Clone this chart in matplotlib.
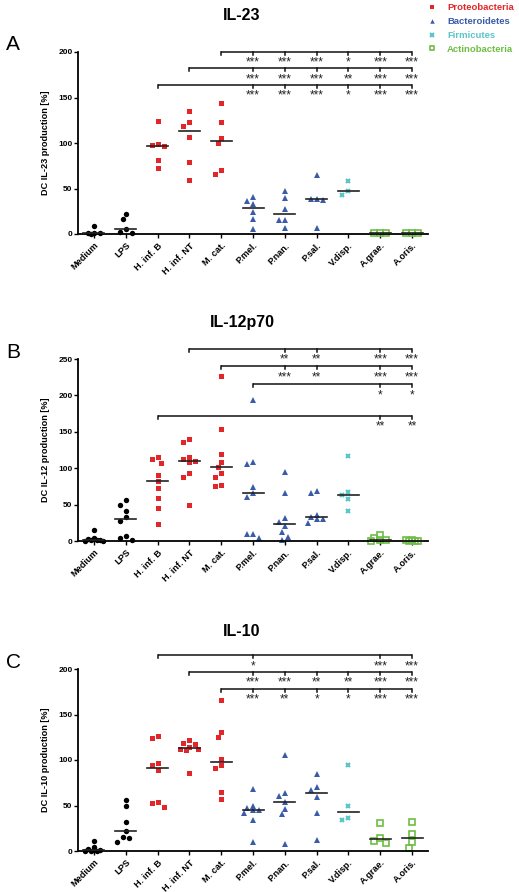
import numpy as np
import matplotlib
matplotlib.use('Agg')
import matplotlib.pyplot as plt
from matplotlib.lines import Line2D

plt.rcParams['font.family'] = ['Liberation Sans', 'DejaVu Sans']

groups = ['Medium', 'LPS', 'H. inf. B', 'H. inf. NT', 'M. cat.', 'P.mel.',
          'P.nan.', 'P.sal.', 'V.disp.', 'A.grae.', 'A.oris.']
phylum = ['ctrl', 'ctrl', 'prot', 'prot', 'prot', 'bact', 'bact', 'bact',
          'firm', 'actino', 'actino']

# values (% of control)
il23 = [
    [8.5, 1, 1, 0.8, 0.5],
    [22, 16, 5, 2, 1],
    [124, 98.5, 97.5, 97, 81, 72],
    [135.7, 123, 119, 106.6, 79, 59],
    [144.5, 123, 105.5, 99.6, 70, 66],
    [41, 36.6, 32.6, 24, 16, 5],
    [47, 40, 28, 15, 15, 7],
    [64.5, 39, 39, 37, 6.6],
    [58, 47, 43],
    [1.5, 1, 1],
    [1, 1, 1],
]
il12 = [
    [15, 4, 3, 2, 1, 1, 0.5, 0.5],
    [56, 50, 41.5, 33, 27, 7.4, 4.6, 1],
    [115, 113, 107, 91, 82.6, 72.5, 58.6, 45, 23],
    [140, 136, 116, 112.6, 110, 108.5, 92.8, 88, 50],
    [227, 154, 119, 108.5, 101, 93, 88, 77.5, 75],
    [194, 109, 106, 73.7, 65.4, 60, 9, 9, 4.6],
    [95, 65.4, 31, 25.8, 20, 12.4, 6, 1],
    [68.6, 65.6, 36, 32.6, 30.5, 30.5, 24.5],
    [117.4, 67, 63, 58, 41],
    [8, 4, 1, 1, 0.5],
    [1, 1, 0.5, 0.5, 0.5],
]
il10 = [
    [11, 4, 2, 1.5, 1, 0.5, 0.5, 0.5],
    [55.7, 49, 31.5, 21.6, 15.7, 14.6, 10],
    [126.7, 124, 96.7, 94, 88.6, 54, 52.7, 48.7],
    [122, 119, 118, 114, 112.5, 112, 111, 86],
    [166, 130.8, 125, 101.5, 94, 90.8, 64.8, 56.8],
    [68, 49, 47.6, 45, 45, 41.8, 33.7, 9.5],
    [106, 63.4, 60.8, 53.5, 46.5, 40.6, 7.3],
    [85, 70, 67, 59.7, 41.8, 12],
    [94.5, 50, 36, 34.4],
    [31, 14, 11.4, 8.4],
    [32.2, 18.3, 9.5, 3],
]

# significance brackets: (start group, height, {group: stars})
sig23 = [
    (4, 200, {5: '***', 6: '***', 7: '***', 8: '*', 9: '***', 10: '***'}),
    (3, 182, {5: '***', 6: '***', 7: '***', 8: '**', 9: '***', 10: '***'}),
    (2, 164, {5: '***', 6: '***', 7: '***', 8: '*', 9: '***', 10: '***'}),
]
sig12 = [
    (3, 264, {6: '**', 7: '**', 9: '***', 10: '***'}),
    (4, 240, {6: '***', 7: '**', 9: '***', 10: '***'}),
    (5, 215, {9: '*', 10: '*'}),
    (2, 172, {9: '**', 10: '**'}),
]
sig10 = [
    (2, 215, {5: '*', 9: '***', 10: '***'}),
    (3, 197, {5: '***', 6: '***', 7: '**', 8: '**', 9: '***', 10: '***'}),
    (4, 178, {5: '***', 6: '**', 7: '*', 8: '*', 9: '***', 10: '***'}),
]

colors = {'ctrl': 'black', 'prot': '#E3262A', 'bact': '#3A5BAA',
          'firm': '#5CC5C8', 'actino': '#6DBE45'}
markers = {'ctrl': dict(marker='o', ms=3.9, mew=0),
           'prot': dict(marker='s', ms=3.6, mew=0),
           'bact': dict(marker='^', ms=3.8, mew=0),
           'firm': dict(marker='x', ms=3.4, mew=1.5),
           'actino': dict(marker='s', ms=3.8, mew=1.2, mfc='none')}

W, H = 519, 892
fig = plt.figure(figsize=(W / 100, H / 100), dpi=100)


def swarm(vals, px_x, px_y, d=6.0, step=3.0, limit=9.5):
    # simple beeswarm in pixel space, squeezed inside +-limit px
    placed = []
    offs = []
    cands = [0.0]
    i = 1
    while i * step <= limit + 1e-6:
        cands += [-i * step, i * step]
        i += 1
    for v in vals:
        y = v * px_y
        best, best_gap = 0.0, -1
        for x in cands:
            gap = min([np.hypot(x - px, y - py) for px, py in placed] or [99])
            if gap >= d:
                best = x
                break
            if gap > best_gap + 0.5:
                best, best_gap = x, gap
        placed.append((best, y))
        offs.append(best / px_x)
    return offs


def panel(top_px, ymax, data, sigs, title, letter, ylabel):
    left, right, bottom = 78, 428, top_px + 182
    ax = fig.add_axes([left / W, 1 - bottom / H, (right - left) / W, (bottom - top_px) / H])
    ax.set_xlim(-0.5, 10.5)
    ax.set_ylim(0, ymax)
    px_x = (right - left) / 11
    px_y = (bottom - top_px) / ymax
    for i, vals in enumerate(data):
        ph = phylum[i]
        offs = swarm(vals, px_x, px_y)
        mk = dict(markers[ph])
        c = colors[ph]
        mk.setdefault('mfc', c)
        ax.plot(np.array(offs) + i, vals, ls='none', color=c, mec=c,
                clip_on=False, zorder=2, **mk)
        med = np.median(vals)
        ax.plot([i - 0.33, i + 0.33], [med, med], color='#222222', lw=1.2,
                zorder=3, clip_on=False)
    for spine in ['top', 'right']:
        ax.spines[spine].set_visible(False)
    for spine in ['left', 'bottom']:
        ax.spines[spine].set_linewidth(1.3)
    ax.set_yticks(np.arange(0, ymax + 1, 50))
    ax.set_xticks(range(11))
    ax.set_xticklabels(groups, rotation=45, ha='right', rotation_mode='anchor',
                       fontsize=6.6, fontweight='bold')
    ax.tick_params(axis='y', labelsize=6, width=1, length=3, pad=1)
    ax.tick_params(axis='x', width=1, length=3, pad=2)
    for t in ax.get_yticklabels():
        t.set_fontweight('bold')
    ax.set_ylabel(ylabel, fontsize=6.6, fontweight='bold', labelpad=6)

    tick = 3 / px_y
    for start, y, stars in sigs:
        ax.plot([start, 10], [y, y], color='#111111', lw=1.1, clip_on=False,
                solid_capstyle='butt')
        for g in [start] + list(stars):
            ax.plot([g, g], [y, y - tick], color='#111111', lw=1.1, clip_on=False)
        for g, s in stars.items():
            ax.annotate(s, xy=(g, y), xytext=(0, -10), textcoords='offset points',
                        ha='center', va='baseline', fontsize=8.5,
                        color='#222222', annotation_clip=False)

    fig.text(242 / W, 1 - (top_px - 37) / H, title, ha='center', va='center',
             fontsize=11.5, fontweight='bold')
    fig.text(6 / W, 1 - (top_px - 7) / H, letter, ha='left', va='center',
             fontsize=15)
    return ax


panel(52, 200, il23, sig23, 'IL-23', 'A', 'DC IL-23 production [%]')
panel(359, 250, il12, sig12, 'IL-12p70', 'B', 'DC IL-12 production [%]')
panel(669, 200, il10, sig10, 'IL-10', 'C', 'DC IL-10 production [%]')

leg_names = ['Proteobacteria', 'Bacteroidetes', 'Firmicutes', 'Actinobacteria']
leg_keys = ['prot', 'bact', 'firm', 'actino']
handles = []
for k in leg_keys:
    mk = dict(markers[k])
    mk.setdefault('mfc', colors[k])
    mk['ms'] = mk['ms'] * 0.85
    handles.append(Line2D([], [], ls='none', color=colors[k], mec=colors[k], **mk))
fig.legend(handles, leg_names, loc='upper left', bbox_to_anchor=(428 / W, 1 - 3 / H),
           frameon=False, handlelength=0.8, handletextpad=1.2,
           labelspacing=0.52, borderaxespad=0, borderpad=0,
           labelcolor=[colors[k] for k in leg_keys],
           prop={'weight': 'bold', 'size': 6.8})

fig.savefig('out.png', dpi=100)
